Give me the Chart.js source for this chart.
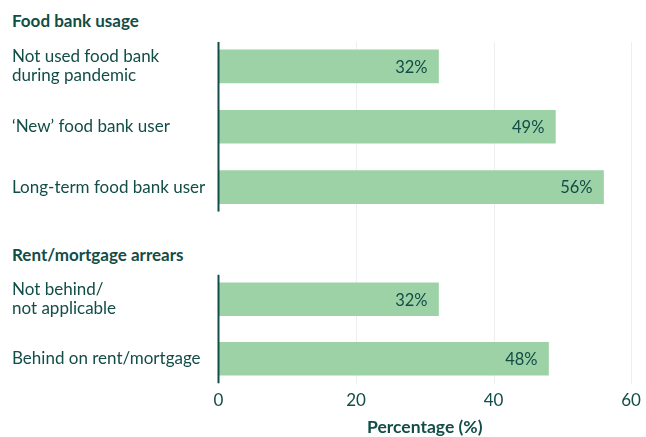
<!DOCTYPE html>
<html>
<head>
<meta charset="utf-8">
<script src="https://cdn.jsdelivr.net/npm/chart.js@4"></script>
<style>
  html, body { margin: 0; padding: 0; background: #fff; }
  #wrap { position: relative; width: 646px; height: 437px; overflow: hidden; }
  .heading {
    position: absolute; left: 12px; margin: 0;
    font: bold 17px Lato, sans-serif; line-height: 20px; color: #124d47;
  }
  canvas { position: absolute; left: 0; }
</style>
</head>
<body>
<div id="wrap">
  <p class="heading" style="top:11px">Food bank usage</p>
  <canvas id="foodBank" width="646" height="240" style="top:0"></canvas>
  <p class="heading" style="top:245px">Rent/mortgage arrears</p>
  <canvas id="arrears" width="646" height="197" style="top:240px"></canvas>
</div>
<script>
const foodBankLabels = [['Not used food bank', 'during pandemic'], '\u2018New\u2019 food bank user', 'Long-term food bank user'];
const foodBankValues = [32, 49, 56];

const arrearsLabels = [['Not behind/', 'not applicable'], 'Behind on rent/mortgage'];
const arrearsValues = [32, 48];

const xTicks = [0, 20, 40, 60];

const TEAL = '#124d47';
const BAR = '#9dd1a6';
const GRID = '#eceff0';
const FONT = 'Lato, sans-serif';

// draws faint vertical gridlines, the short zero line and the % labels inside bars
const barExtras = {
  id: 'barExtras',
  beforeDatasetsDraw(chart, args, opts) {
    const ctx = chart.ctx;
    const x = chart.scales.x;
    const bars = chart.getDatasetMeta(0).data;
    const first = bars[0], last = bars[bars.length - 1];
    const top = opts.gridTop === 'canvas' ? 0 : first.y - first.height / 2 - 8;
    const bottom = opts.gridBottom === 'canvas' ? chart.height : last.y + last.height / 2 + 9;
    ctx.save();
    ctx.strokeStyle = GRID;
    ctx.lineWidth = 1;
    xTicks.slice(1).forEach(v => {
      const px = Math.round(x.getPixelForValue(v)) + 0.5;
      ctx.beginPath();
      ctx.moveTo(px, top);
      ctx.lineTo(px, bottom);
      ctx.stroke();
    });
    ctx.restore();
  },
  afterDatasetsDraw(chart) {
    const ctx = chart.ctx;
    const x = chart.scales.x;
    const meta = chart.getDatasetMeta(0);
    const values = chart.data.datasets[0].data;
    const bars = meta.data;
    const first = bars[0], last = bars[bars.length - 1];
    ctx.save();
    // zero line
    const x0 = x.getPixelForValue(0);
    ctx.strokeStyle = TEAL;
    ctx.lineWidth = 2;
    ctx.beginPath();
    ctx.moveTo(x0, first.y - first.height / 2 - 8);
    ctx.lineTo(x0, last.y + last.height / 2 + 8);
    ctx.stroke();
    // value labels
    ctx.fillStyle = TEAL;
    ctx.font = '16.5px ' + FONT;
    ctx.textAlign = 'right';
    ctx.textBaseline = 'middle';
    bars.forEach((bar, i) => {
      ctx.fillText(values[i] + '%', bar.x - 11, bar.y + 1);
    });
    ctx.restore();
  }
};

function makeChart(id, labels, values, showAxis, padding, gridTop, gridBottom) {
  return new Chart(document.getElementById(id), {
    type: 'bar',
    data: {
      labels,
      datasets: [{
        data: values,
        backgroundColor: BAR,
        borderWidth: 0,
        barThickness: 33
      }]
    },
    options: {
      indexAxis: 'y',
      responsive: false,
      animation: false,
      devicePixelRatio: 1,
      layout: { padding },
      plugins: {
        legend: { display: false },
        tooltip: { enabled: false },
        barExtras: { gridTop, gridBottom }
      },
      scales: {
        x: {
          display: showAxis,
          min: 0,
          max: 60,
          afterBuildTicks: scale => { scale.ticks = xTicks.map(v => ({ value: v })); },
          grid: { display: false, drawTicks: false },
          border: { display: false },
          ticks: { color: TEAL, font: { family: FONT, size: 17, lineHeight: 1.13 }, padding: 2 },
          title: {
            display: showAxis,
            text: 'Percentage (%)',
            color: TEAL,
            font: { family: FONT, size: 17.5, weight: 'bold', lineHeight: 1.1 },
            padding: { top: 6, bottom: 0 }
          }
        },
        y: {
          grid: { display: false },
          border: { display: false },
          afterFit: scale => { scale.width = 206.5; },
          ticks: {
            autoSkip: false,
            crossAlign: 'far',
            color: TEAL,
            font: { family: FONT, size: 17, lineHeight: 1.12 }
          }
        }
      }
    },
    plugins: [barExtras]
  });
}

makeChart('foodBank', foodBankLabels, foodBankValues, false,
  { top: 36.3, bottom: 22.8, left: 12, right: 15 }, 'bar', 'canvas');
makeChart('arrears', arrearsLabels, arrearsValues, true,
  { top: 29.5, bottom: 0, left: 12, right: 15 }, 'canvas', 'bar');
</script>
</body>
</html>
